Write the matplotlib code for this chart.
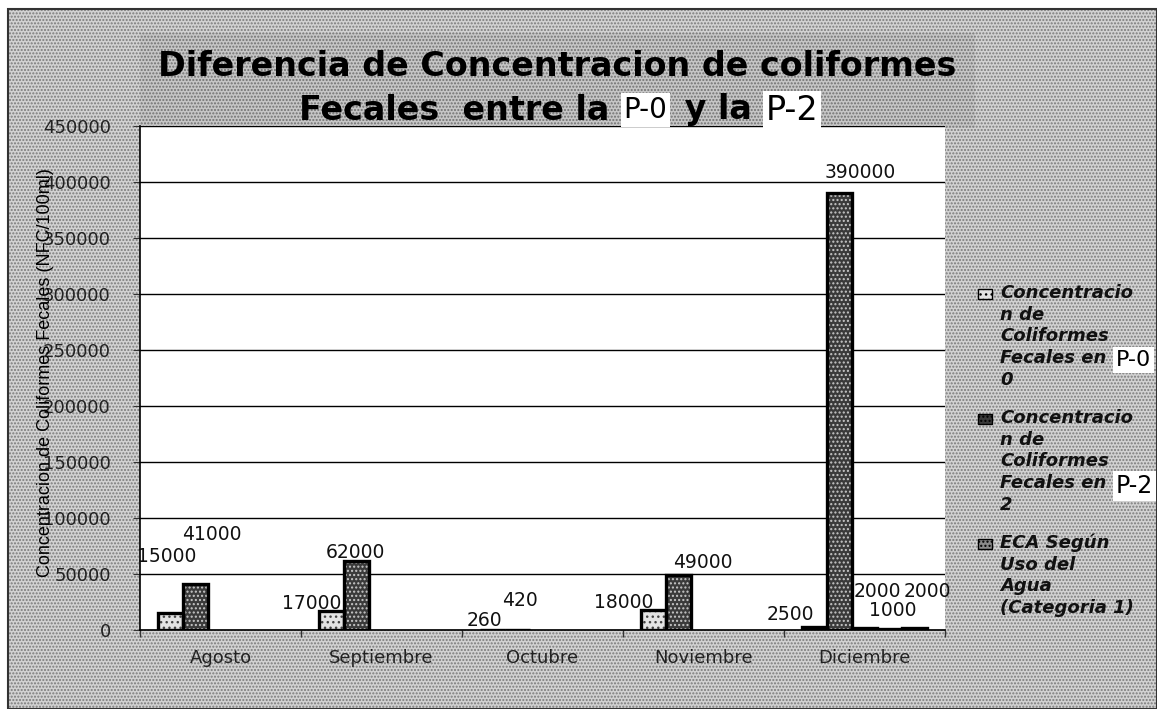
import matplotlib
matplotlib.use("Agg")
import matplotlib.pyplot as plt
from matplotlib.patches import Rectangle
import numpy as np

W, H = 1157, 709

# datos
meses = ["Agosto", "Septiembre", "Octubre", "Noviembre", "Diciembre"]
p0 = [15000, 17000, 260, 18000, 2500]
p2 = [41000, 62000, 420, 49000, 390000]
eca_a = [np.nan, np.nan, np.nan, np.nan, 2000]
eca_b = [np.nan, np.nan, np.nan, np.nan, 1000]
eca_c = [np.nan, np.nan, np.nan, np.nan, 2000]
yticks = list(range(0, 450001, 50000))

titulo1 = "Diferencia de Concentracion de coliformes"
titulo2 = ["Fecales  entre la ", "P-0", " y la ", "P-2"]
ylabel = "Concentracion de Coliformes Fecales (NFC/100ml)"
leyenda = [["Concentracio", "n de", "Coliformes", "Fecales en", "0"],
           ["Concentracio", "n de", "Coliformes", "Fecales en", "2"],
           ["ECA Según", "Uso del", "Agua", "(Categoria 1)"]]

# desplazamiento de las etiquetas (pixeles) respecto a la parte alta de la barra
off_p0 = [(-4, 57), (-20, 7), (-8, 9), (-30, 7), (-24, 13)]
off_p2 = [(16, 50), (-1, 8), (2, 29), (24, 13), (21, 21)]
off_eca = [(13, 36), (3, 18), (13, 36)]


def px(x, y):
    return x / W, 1 - y / H


fig = plt.figure(figsize=(W / 100, H / 100), dpi=100)
fig.patch.set_facecolor("white")

# fondo punteado del area del grafico
fig.patches.append(Rectangle(px(8, H), (W - 8) / W, (H - 9) / H, transform=fig.transFigure,
                             facecolor="#d2d2d2", edgecolor="#7a7a7a", hatch=".....",
                             linewidth=0, zorder=-10))
fig.patches.append(Rectangle(px(8, H), (W - 8) / W, (H - 9) / H, transform=fig.transFigure,
                             fill=False, edgecolor="#333333", linewidth=1.5, zorder=-9))
fig.patches.append(Rectangle(px(140, 128), 835 / W, 95 / H, transform=fig.transFigure,
                             facecolor="#c6c6c6", edgecolor="#707070", hatch=".....",
                             linewidth=0, zorder=-8))

ax = fig.add_axes([140 / W, (H - 630) / H, 805 / W, 504 / H])
ax.set_facecolor("white")

x = np.arange(len(meses))
bw = 0.155


def barras(vals, pos, face, hatch, hcol):
    ax.bar(x + pos * bw, vals, bw, color=face, hatch=hatch, edgecolor=hcol,
           linewidth=0, zorder=3)
    return ax.bar(x + pos * bw, vals, bw, fill=False, edgecolor="black",
                  linewidth=2.4, zorder=4)


barras(p0, -2, "#e4e4e4", "...", "#444444")
barras(p2, -1, "#3a3a3a", "....", "#c8c8c8")
barras(eca_a, 0, "#8a8a8a", "....", "#222222")
barras(eca_b, 1, "#8a8a8a", "....", "#222222")
barras(eca_c, 2, "#8a8a8a", "....", "#222222")


def etiquetas(vals, pos, offs):
    for i, v in enumerate(vals):
        if np.isnan(v):
            continue
        dx, dy = offs[i]
        ax.annotate(f"{v:g}", xy=(i + pos * bw, v), xytext=(dx, dy),
                    textcoords="offset pixels", ha="center", va="center",
                    fontsize=13.5, color="#111111", zorder=6)


etiquetas(p0, -2, off_p0)
etiquetas(p2, -1, off_p2)
for serie, pos, off in zip([eca_a, eca_b, eca_c], [0, 1, 2], off_eca):
    vals = [np.nan] * 4 + [serie[4]]
    etiquetas(np.array(vals, dtype=float), pos, [None] * 4 + [off])

ax.set_xlim(-0.5, len(meses) - 0.5)
ax.set_ylim(0, 450000)
ax.set_yticks(yticks)
ax.set_yticklabels([str(v) for v in yticks], fontsize=13, color="#222222")
ax.yaxis.grid(True, color="black", linewidth=1, zorder=0)
ax.set_xticks(x)
ax.set_xticklabels(meses, fontsize=13, color="#222222")
ax.set_xticks(np.arange(-0.5, len(meses)), minor=True)
ax.tick_params(axis="x", which="major", length=0, pad=14)
ax.tick_params(axis="x", which="minor", length=5, width=1, color="#333333")
ax.tick_params(axis="y", length=5, direction="out", pad=16, color="#333333")
for s in ["top", "right"]:
    ax.spines[s].set_visible(False)
ax.spines["left"].set_linewidth(1.2)
ax.spines["bottom"].set_linewidth(1.2)

fig.text(*px(46, 373), ylabel, rotation=90, ha="center", va="center",
         family=["Liberation Sans Narrow", "Liberation Sans", "DejaVu Sans"], fontsize=13)

# titulo
fig.text(*px(557, 66), titulo1, ha="center", va="center", fontsize=24,
         fontweight="bold", color="black")
fig.canvas.draw()
rend = fig.canvas.get_renderer()
piezas = []
for j, parte in enumerate(titulo2):
    caja = parte.startswith("P-")
    t = fig.text(0, 0, parte, ha="left", va="center",
                 fontsize=(20 if j == 1 else 24) if caja else 24,
                 fontweight="normal" if caja else "bold",
                 bbox=dict(facecolor="white", edgecolor="none", pad=2) if caja else None)
    piezas.append((t, t.get_window_extent(rend).width + (6 if caja else 2)))
total = sum(w for _, w in piezas)
xcur = 562 - total / 2
for t, w in piezas:
    t.set_position(px(xcur, 110))
    xcur += w

# leyenda
inicio = [293, 418, 543]
colores = [("#e4e4e4", "..."), ("#3a3a3a", "...."), ("#8a8a8a", "....")]
for k, lineas in enumerate(leyenda):
    y0 = inicio[k]
    fig.patches.append(Rectangle(px(978, y0 + 6), 14 / W, 10 / H, transform=fig.transFigure,
                                 facecolor=colores[k][0], edgecolor="black",
                                 hatch=colores[k][1], linewidth=1))
    for i, linea in enumerate(lineas):
        fig.text(*px(1000, y0 + i * 21.7), linea, ha="left", va="center",
                 fontsize=13, fontstyle="italic", fontweight="bold", color="#111111")
fig.text(*px(1116, 360), "P-0", ha="left", va="center", fontsize=16,
         bbox=dict(facecolor="white", edgecolor="none", pad=2))
fig.text(*px(1116, 486), "P-2", ha="left", va="center", fontsize=17,
         bbox=dict(facecolor="white", edgecolor="none", pad=2))

fig.savefig("out.png", dpi=100)
